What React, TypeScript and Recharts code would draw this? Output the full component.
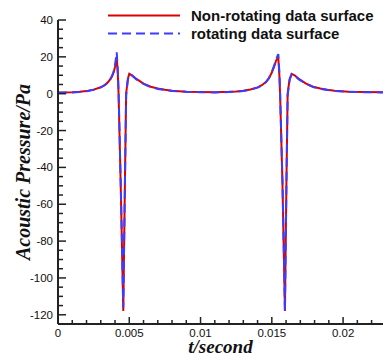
import React from 'react';
import { LineChart, Line, XAxis, YAxis, Label } from 'recharts';

// time samples (s)
const times = [
  0, 0.001, 0.0015, 0.002, 0.0025, 0.003, 0.0033, 0.0035, 0.0037, 0.0038, 0.0039, 0.004, 0.00412,
  0.0042, 0.00425, 0.0044, 0.00458, 0.0047, 0.00478, 0.0049, 0.005, 0.0052, 0.0055, 0.006, 0.0065,
  0.007, 0.0075, 0.008, 0.009, 0.01, 0.011, 0.012, 0.0125, 0.013, 0.0135, 0.014, 0.0143, 0.0146,
  0.0148, 0.015, 0.0152, 0.0153, 0.01545, 0.01553, 0.01558, 0.01575, 0.01592, 0.01603, 0.01611,
  0.01625, 0.01639, 0.0166, 0.0169, 0.0174, 0.0179, 0.0184, 0.0189, 0.0194, 0.0204, 0.0215, 0.0228,
];

const nonRotating = [
  0.6, 0.8, 1.0, 1.4, 2.2, 3.5, 4.8, 6.2, 8.2, 9.6, 11.5, 14.5, 20,
  10, 0, -50, -118, -45, 0, 8, 10.8, 10, 8, 5.5, 3.8,
  2.8, 2.1, 1.6, 1.1, 0.9, 0.8, 1.0, 1.2, 1.6, 2.3, 3.4, 4.6, 6.4,
  8.4, 11.5, 15.5, 18, 20, 10, 0, -50, -118, -45, 0,
  8, 10.8, 10, 8, 5.5, 3.8, 2.8, 2.1, 1.6, 1.1, 0.9, 0.8,
];

const rotating = [
  0.5, 0.7, 0.9, 1.3, 2.1, 3.4, 4.7, 6.1, 8.3, 9.8, 12, 15.5, 22.5,
  12, 1, -48, -116, -46, -1, 7.5, 10.5, 9.8, 7.8, 5.3, 3.6,
  2.6, 2.0, 1.5, 1.0, 0.8, 0.7, 0.9, 1.1, 1.5, 2.2, 3.3, 4.5, 6.3,
  8.5, 11.8, 16, 18.5, 21.5, 12, 1, -48, -118, -46, -1,
  7.5, 10.5, 9.8, 7.8, 5.3, 3.6, 2.6, 2.0, 1.5, 1.0, 0.8, 0.7,
];

const xTicks = Array.from({ length: 23 }, (_, i) => +(i * 0.001).toFixed(3));
const xMajor = [0, 0.005, 0.01, 0.015, 0.02];
const xLabels = ['0', '0.005', '0.01', '0.015', '0.02'];
const yTicks = Array.from({ length: 34 }, (_, i) => -125 + i * 5);
const yMajor = [-120, -100, -80, -60, -40, -20, 0, 20, 40];

const seriesNames = ['Non-rotating data surface', 'rotating data surface'];

const data = times.map((t, i) => ({ t, red: nonRotating[i], blue: rotating[i] }));

const TICK_FONT = '"Liberation Sans", Arial, sans-serif';
const TITLE_FONT = '"Liberation Serif", "Times New Roman", serif';
const AXIS = '#222';
const RED = '#dd0000';
const BLUE = '#3c3cff';

const XTick = (props: any) => {
  const { x, y, payload } = props;
  const v = payload.value;
  const idx = xMajor.findIndex((m) => Math.abs(m - v) < 1e-9);
  const axisY = y - 4;
  const len = idx >= 0 ? 7 : 4;
  return (
    <g>
      <line x1={x} x2={x} y1={axisY} y2={axisY - len} stroke={AXIS} strokeWidth={1.5} />
      {idx >= 0 && (
        <text x={x} y={axisY + 13} textAnchor="middle" fontSize={11.5} fontFamily={TICK_FONT} fill="#111">
          {xLabels[idx]}
        </text>
      )}
    </g>
  );
};

const YTick = (props: any) => {
  const { x, y, payload } = props;
  const v = payload.value;
  const major = yMajor.includes(v);
  const axisX = x + 5;
  const len = major ? 8 : 5;
  return (
    <g>
      <line x1={axisX} x2={axisX + len} y1={y} y2={y} stroke={AXIS} strokeWidth={1.5} />
      {major && (
        <text x={axisX - 5} y={y + 4} textAnchor="end" fontSize={11.5} fontFamily={TICK_FONT} fill="#111">
          {v}
        </text>
      )}
    </g>
  );
};

// legend drawn as overlay in the upper right of the plot
const LegendBox = () => (
  <svg width={383} height={45} style={{ position: 'absolute', left: 0, top: 0, pointerEvents: 'none' }}>
    <line x1={108} x2={180} y1={15.5} y2={15.5} stroke={RED} strokeWidth={2} />
    <text x={191} y={21} fontSize={15} fontWeight="bold" fontFamily={TICK_FONT} fill="#111">
      {seriesNames[0]}
    </text>
    <line x1={108} x2={180} y1={33.5} y2={33.5} stroke={BLUE} strokeWidth={2} strokeDasharray="9 5" />
    <text x={191} y={39} fontSize={15} fontWeight="bold" fontFamily={TICK_FONT} fill="#111">
      {seriesNames[1]}
    </text>
  </svg>
);

export default function App() {
  return (
    <div style={{ position: 'absolute', left: 0, top: 0, width: 383, height: 358, background: '#fff' }}>
      <LineChart width={383} height={358} data={data} margin={{ top: 20, right: 0, bottom: 0, left: 0 }}>
        <XAxis
          dataKey="t"
          type="number"
          domain={[0, 0.0228]}
          ticks={xTicks}
          interval={0}
          allowDataOverflow
          height={34}
          tickSize={0}
          tickMargin={4}
          tick={<XTick />}
          axisLine={{ stroke: AXIS, strokeWidth: 2 }}
        >
          <Label
            value="t/second"
            position="insideBottom"
            offset={5}
            style={{ fontFamily: TITLE_FONT, fontSize: 19, fontWeight: 'bold', fontStyle: 'italic', fill: '#111' }}
          />
        </XAxis>
        <YAxis
          type="number"
          domain={[-125, 40]}
          ticks={yTicks}
          interval={0}
          allowDataOverflow
          width={58}
          tickSize={0}
          tickMargin={5}
          tick={<YTick />}
          axisLine={{ stroke: AXIS, strokeWidth: 2 }}
        >
          <Label
            value="Acoustic Pressure/Pa"
            angle={-90}
            position="insideLeft"
            offset={23}
            style={{ textAnchor: 'middle', fontFamily: TITLE_FONT, fontSize: 20, fontWeight: 'bold', fontStyle: 'italic', fill: '#111' }}
          />
        </YAxis>
        <Line
          type="linear"
          dataKey="red"
          name={seriesNames[0]}
          stroke={RED}
          strokeWidth={2}
          dot={false}
          isAnimationActive={false}
        />
        <Line
          type="linear"
          dataKey="blue"
          name={seriesNames[1]}
          stroke={BLUE}
          strokeWidth={2}
          strokeDasharray="9 5"
          dot={false}
          isAnimationActive={false}
        />
      </LineChart>
      <LegendBox />
    </div>
  );
}
